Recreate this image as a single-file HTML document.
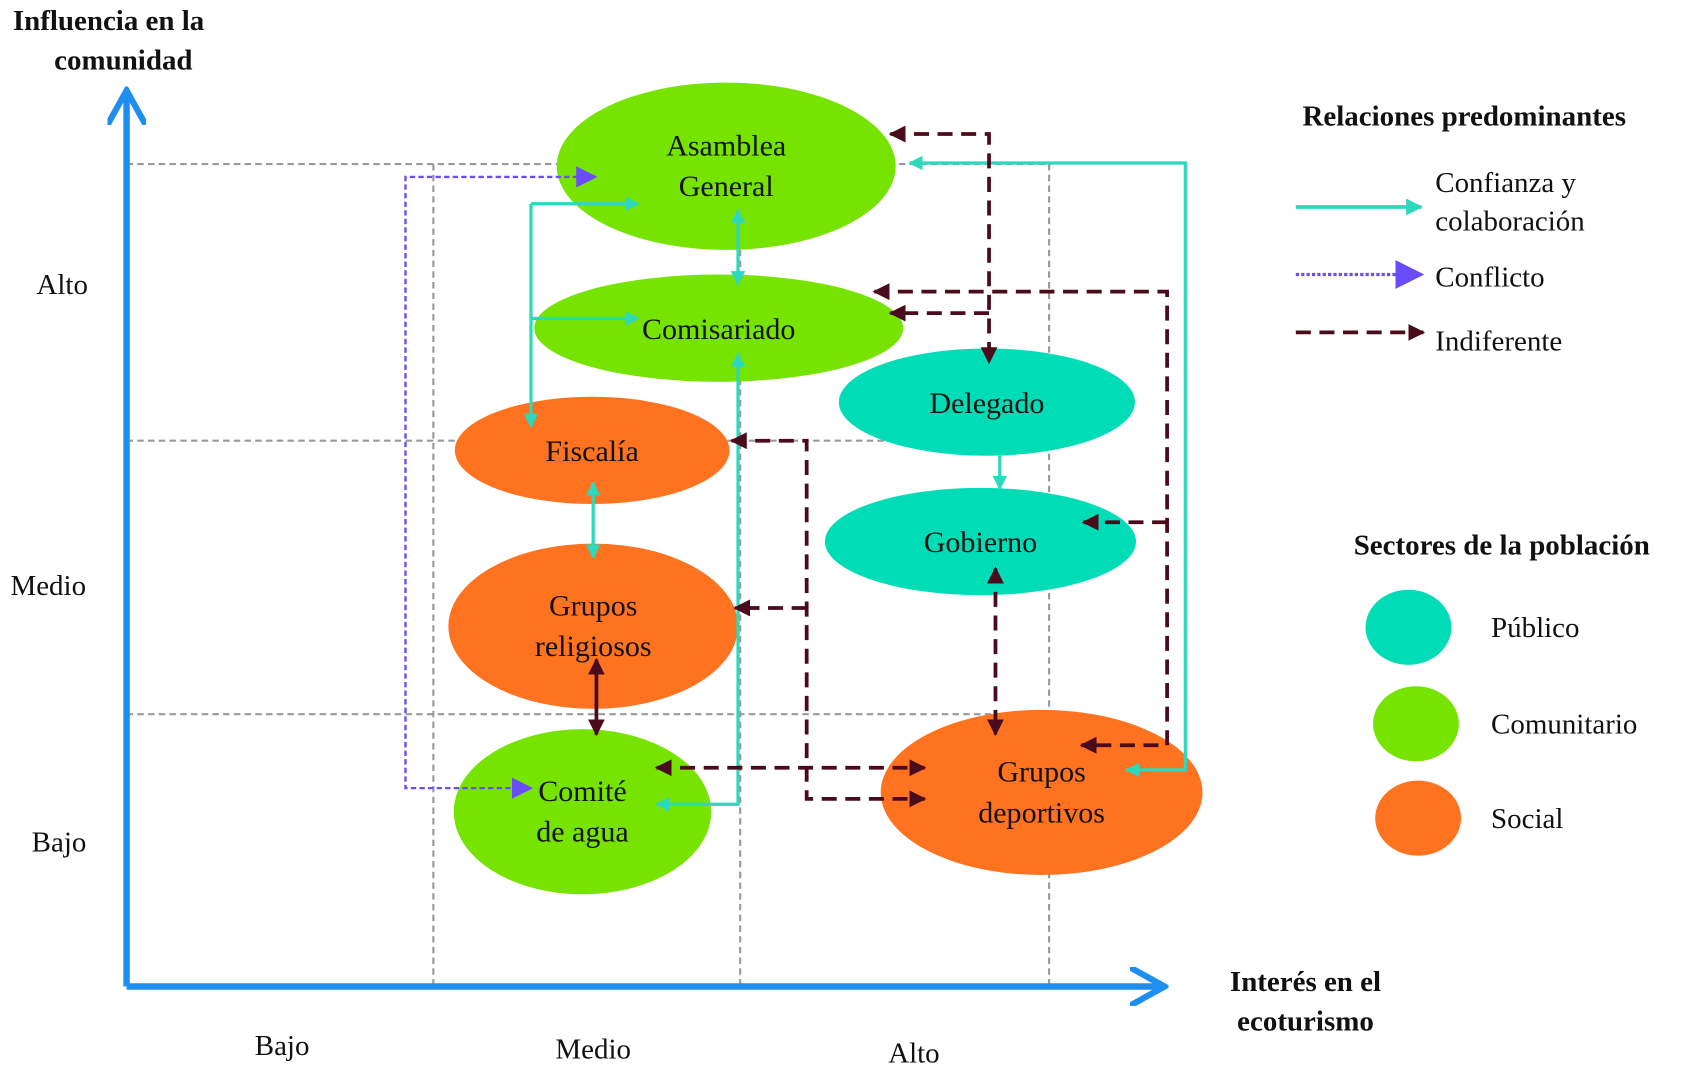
<!DOCTYPE html>
<html><head><meta charset="utf-8"><style>
html,body{margin:0;padding:0;background:#fff;}
svg{display:block;}
text{font-family:"Liberation Serif",serif;fill:#111;}
.b{font-weight:bold;}
</style></head><body>
<svg width="1682" height="1068" viewBox="0 0 1568 996" preserveAspectRatio="none" xmlns="http://www.w3.org/2000/svg">
<defs>
<marker id="t" viewBox="0 0 10 10" refX="9" refY="5" markerWidth="4.5" markerHeight="4.5" orient="auto-start-reverse" markerUnits="strokeWidth"><path d="M0,0L10,5L0,10z" fill="#2ed8bd"/></marker>
<marker id="d" viewBox="0 0 10 10" refX="9" refY="5" markerWidth="4.5" markerHeight="4.5" orient="auto-start-reverse" markerUnits="strokeWidth"><path d="M0,0L10,5L0,10z" fill="#4a0b1c"/></marker>
<marker id="p" viewBox="0 0 10 10" refX="9" refY="5" markerWidth="9" markerHeight="9" orient="auto-start-reverse" markerUnits="strokeWidth"><path d="M0,0L10,5L0,10z" fill="#6a4cff"/></marker>
<marker id="ax" viewBox="0 0 10 10" refX="8" refY="5" markerWidth="6" markerHeight="6" orient="auto" markerUnits="strokeWidth"><path d="M0,0L9,5L0,10" fill="none" stroke="#1e8ff0" stroke-width="1.6"/></marker>
</defs>
<!-- grid -->
<g stroke="#9a9a9a" stroke-width="2" stroke-dasharray="6,4" fill="none">
<path d="M118,153H980M118,411H980M118,666H980"/>
<path d="M404,153V920M690,153V920M978,153V920"/>
</g>
<!-- axes -->
<path d="M118,920V88" stroke="#1e8ff0" stroke-width="6" fill="none" marker-end="url(#ax)"/>
<path d="M118,920H1082" stroke="#1e8ff0" stroke-width="6" fill="none" marker-end="url(#ax)"/>
<!-- ellipses -->
<ellipse cx="677" cy="155" rx="158" ry="78" fill="#76e400"/>
<ellipse cx="670" cy="306" rx="172" ry="50" fill="#76e400"/>
<ellipse cx="920" cy="375" rx="138" ry="50" fill="#00dcb6"/>
<ellipse cx="552" cy="420" rx="128" ry="50" fill="#ff7220"/>
<ellipse cx="914" cy="505" rx="145" ry="50" fill="#00dcb6"/>
<ellipse cx="553" cy="584" rx="135" ry="77" fill="#ff7220"/>
<ellipse cx="543" cy="757" rx="120" ry="77" fill="#76e400"/>
<ellipse cx="971" cy="739" rx="150" ry="77" fill="#ff7220"/>
<!-- teal connectors -->
<g stroke="#2ed8bd" stroke-width="3" fill="none">
<path d="M1050,718H1105V152H848" marker-start="url(#t)" marker-end="url(#t)"/>
<path d="M495,190V398" marker-end="url(#t)"/>
<path d="M495,190H595" marker-end="url(#t)"/>
<path d="M495,297H595" marker-end="url(#t)"/>
<path d="M688,196V265" marker-start="url(#t)" marker-end="url(#t)"/>
<path d="M688,330V750H612" marker-start="url(#t)" marker-end="url(#t)"/>
<path d="M932,425V456" marker-end="url(#t)"/>
<path d="M553,450V520" marker-start="url(#t)" marker-end="url(#t)"/>
</g>
<!-- conflict -->
<path d="M555,165H378V735H495" stroke="#6a4cff" stroke-width="2.2" stroke-dasharray="5,3" fill="none" marker-start="url(#p)" marker-end="url(#p)"/>
<!-- indifferent -->
<g stroke="#4a0b1c" stroke-width="3.5" fill="none" stroke-dasharray="14,8">
<path d="M830,125H922V338" marker-start="url(#d)" marker-end="url(#d)"/>
<path d="M815,272H1088V695H1008" marker-start="url(#d)" marker-end="url(#d)"/>
<path d="M1088,487H1010" marker-end="url(#d)"/>
<path d="M922,292H830" marker-end="url(#d)"/>
<path d="M682,411H752V745H862" marker-start="url(#d)" marker-end="url(#d)"/>
<path d="M752,567H685" marker-end="url(#d)"/>
<path d="M612,716H862" marker-start="url(#d)" marker-end="url(#d)"/>
<path d="M556,615V685" marker-start="url(#d)" marker-end="url(#d)" stroke-dasharray="none"/>
<path d="M928,530V685" marker-start="url(#d)" marker-end="url(#d)"/>
</g>
<!-- node labels -->
<g font-size="28" text-anchor="middle">
<text x="677" y="145">Asamblea</text><text x="677" y="183">General</text>
<text x="670" y="316">Comisariado</text>
<text x="920" y="385">Delegado</text>
<text x="552" y="430">Fiscalía</text>
<text x="914" y="515">Gobierno</text>
<text x="553" y="574">Grupos</text><text x="553" y="612">religiosos</text>
<text x="543" y="747">Comité</text><text x="543" y="785">de agua</text>
<text x="971" y="729">Grupos</text><text x="971" y="767">deportivos</text>
</g>
<!-- axis labels -->
<g font-size="27">
<text x="12" y="28" class="b">Influencia en la</text>
<text x="115" y="65" class="b" text-anchor="middle">comunidad</text>
<text x="58" y="274" text-anchor="middle">Alto</text>
<text x="45" y="555" text-anchor="middle">Medio</text>
<text x="55" y="794" text-anchor="middle">Bajo</text>
<text x="263" y="984" text-anchor="middle">Bajo</text>
<text x="553" y="987" text-anchor="middle">Medio</text>
<text x="852" y="991" text-anchor="middle">Alto</text>
<text x="1217" y="924" class="b" text-anchor="middle">Interés en el</text>
<text x="1217" y="961" class="b" text-anchor="middle">ecoturismo</text>
</g>
<!-- legend -->
<g font-size="27">
<text x="1365" y="117" class="b" text-anchor="middle">Relaciones predominantes</text>
<text x="1338" y="179">Confianza y</text><text x="1338" y="215">colaboración</text>
<text x="1338" y="267">Conflicto</text>
<text x="1338" y="327">Indiferente</text>
<text x="1400" y="517" class="b" text-anchor="middle">Sectores de la población</text>
<text x="1390" y="594">Público</text>
<text x="1390" y="684">Comunitario</text>
<text x="1390" y="772">Social</text>
</g>
<path d="M1208,193H1325" stroke="#2ed8bd" stroke-width="3.5" marker-end="url(#t)"/>
<path d="M1208,256H1325" stroke="#6a4cff" stroke-width="3" stroke-dasharray="3,2" marker-end="url(#p)"/>
<path d="M1208,310H1327" stroke="#4a0b1c" stroke-width="3.5" stroke-dasharray="14,8" marker-end="url(#d)"/>
<ellipse cx="1313" cy="585" rx="40" ry="35" fill="#00dcb6"/>
<ellipse cx="1320" cy="675" rx="40" ry="35" fill="#76e400"/>
<ellipse cx="1322" cy="763" rx="40" ry="35" fill="#ff7220"/>
</svg>
</body></html>
